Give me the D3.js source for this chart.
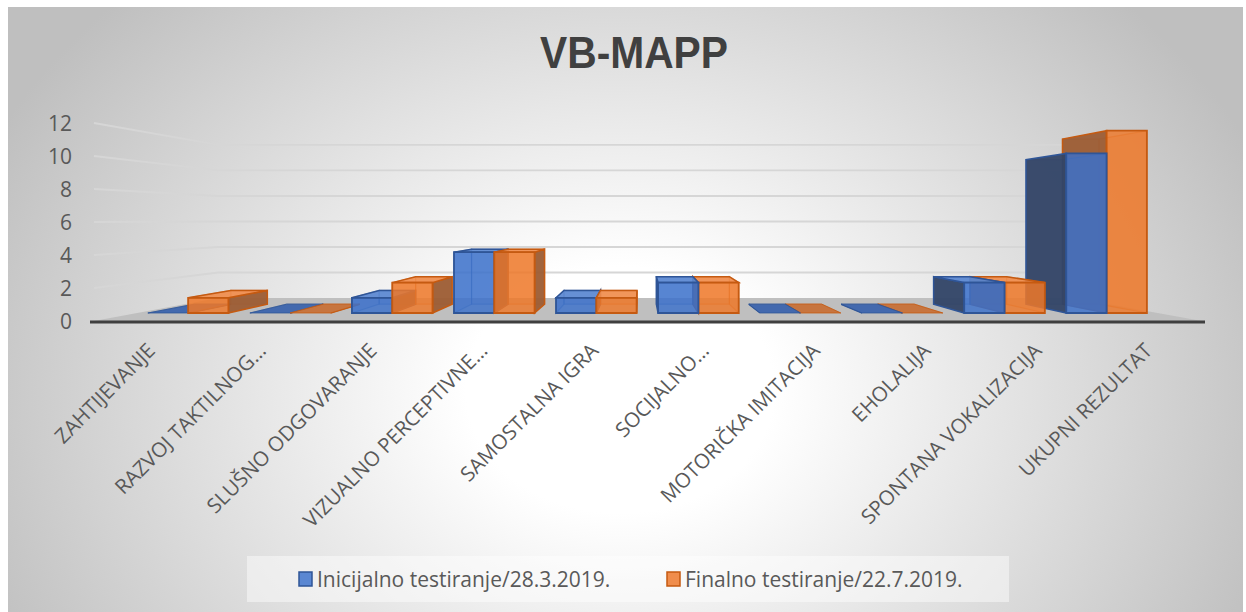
<!DOCTYPE html>
<html>
<head>
<meta charset="utf-8">
<script src="https://cdn.jsdelivr.net/npm/d3@7"></script>
<style>
  body { margin: 0; background: #fff; }
  text { font-family: "Open Sans", "DejaVu Sans", sans-serif; }
</style>
</head>
<body>
<div id="chart"></div>
<script>
const categories = ["ZAHTIJEVANJE", "RAZVOJ TAKTILNOG…", "SLUŠNO ODGOVARANJE", "VIZUALNO PERCEPTIVNE…",
    "SAMOSTALNA IGRA", "SOCIJALNO…", "MOTORIČKA IMITACIJA", "EHOLALIJA", "SPONTANA VOKALIZACIJA", "UKUPNI REZULTAT"];
const initialScores = [0, 0, 1, 4, 1, 2, 0, 0, 2, 10.5];
const finalScores = [1, 0, 2, 4, 1, 2, 0, 0, 2, 12];
const seriesNames = ["Inicijalno testiranje/28.3.2019.", "Finalno testiranje/22.7.2019."];
const yTicks = [0, 2, 4, 6, 8, 10, 12];

const width = 1246, height = 612;

// colours per series: front (translucent), side, top, edge, legend swatch
const palette = [
    {front: "#3b70ca", side: "#334466", top: "#4369ae", edge: "#2f5597", swatch: "#5a87d2"},
    {front: "#ee7728", side: "#9c5d35", top: "#c7753f", edge: "#c55a11", swatch: "#f08d4c"}
];

const svg = d3.select("#chart").append("svg")
    .attr("width", width)
    .attr("height", height);

const defs = svg.append("defs");
const grad = defs.append("radialGradient")
    .attr("id", "bg")
    .attr("gradientUnits", "userSpaceOnUse")
    .attr("cx", 620).attr("cy", 390).attr("r", 700)
    .attr("gradientTransform", "translate(620,390) scale(1,0.8) translate(-620,-390)");
grad.append("stop").attr("offset", 0).attr("stop-color", "#ffffff");
grad.append("stop").attr("offset", 0.22).attr("stop-color", "#ffffff");
grad.append("stop").attr("offset", 1).attr("stop-color", "#bfbfbf");

svg.append("rect")
    .attr("x", 8).attr("y", 7)
    .attr("width", 1235).attr("height", 605)
    .attr("fill", "url(#bg)");

// perspective set-up: front plane scales, depth -> scale factor
const vx = 640, vy = 219.7;
const x = d3.scaleBand().domain(d3.range(categories.length))
    .range([94, 1202]).paddingInner(0.21).paddingOuter(0.105);
const xSub = d3.scaleBand().domain([0, 1]).range([0, x.bandwidth()]);
const y = d3.scaleLinear().domain([0, 12]).range([321, 123]);
const depth = d3.scaleLinear().domain([0, 1]).range([0, 0.294]);
const zBarFront = 0.0858, zBarBack = 0.199;

function proj(X, v, z) {
    const s = 1 / (1 + z);
    return [vx + (X - vx) * s, vy + (y(v) - vy) * s];
}
const line = pts => "M" + pts.map(p => p.join(",")).join("L") + "Z";

const x0 = x.range()[0], x1 = x.range()[1], zBack = depth(1);

// floor
svg.append("path")
    .attr("d", line([proj(x0, 0, 0), proj(x1, 0, 0), proj(x1, 0, zBack), proj(x0, 0, zBack)]))
    .attr("fill", "#bfbfbf");

// gridlines on side wall and back wall
const grid = svg.append("g");
yTicks.filter(t => t > 0).forEach(t => {
    const a = proj(x0, t, 0), b = proj(x0, t, zBack), c = proj(x1, t, zBack);
    grid.append("path")
        .attr("d", `M${a}L${b}L${c}`)
        .attr("fill", "none")
        .attr("stroke", "#d6d6d6")
        .attr("stroke-width", 1.8);
});

// front edge of floor
svg.append("line")
    .attr("x1", x0 - 4).attr("x2", x1 + 3)
    .attr("y1", y(0) + 1).attr("y2", y(0) + 1)
    .attr("stroke", "#3f3f3f")
    .attr("stroke-width", 3);

// bars
const bars = [];
categories.forEach((c, i) => {
    [initialScores[i], finalScores[i]].forEach((v, k) => {
        const left = x(i) + xSub(k);
        bars.push({i, k, v, left, right: left + xSub.bandwidth()});
    });
});
bars.sort((a, b) => Math.abs((b.left + b.right) / 2 - vx) - Math.abs((a.left + a.right) / 2 - vx));

const barG = svg.append("g");
bars.forEach(d => {
    const col = palette[d.k];
    const zf = zBarFront, zb = zBarBack;
    const P = (X, v, z) => proj(X, v, z);
    const faces = {
        front: [P(d.left, 0, zf), P(d.right, 0, zf), P(d.right, d.v, zf), P(d.left, d.v, zf)],
        back: [P(d.left, 0, zb), P(d.right, 0, zb), P(d.right, d.v, zb), P(d.left, d.v, zb)],
        leftF: [P(d.left, 0, zf), P(d.left, 0, zb), P(d.left, d.v, zb), P(d.left, d.v, zf)],
        rightF: [P(d.right, 0, zf), P(d.right, 0, zb), P(d.right, d.v, zb), P(d.right, d.v, zf)],
        top: [P(d.left, d.v, zf), P(d.right, d.v, zf), P(d.right, d.v, zb), P(d.left, d.v, zb)]
    };
    const topVisible = faces.top[0][1] >= faces.top[3][1];
    const leftVisible = d.left > vx;
    const rightVisible = d.right < vx;
    const g = barG.append("g");

    // hidden edges, seen through the translucent faces
    const hidden = [faces.back];
    if (!leftVisible) hidden.push(faces.leftF);
    if (!rightVisible) hidden.push(faces.rightF);
    hidden.forEach(f => g.append("path").attr("d", line(f))
        .attr("fill", col.front).attr("fill-opacity", 0.2)
        .attr("stroke", col.edge).attr("stroke-opacity", 0.45).attr("stroke-width", 1.2));

    if (leftVisible) g.append("path").attr("d", line(faces.leftF))
        .attr("fill", col.side).attr("fill-opacity", 0.95)
        .attr("stroke", col.edge).attr("stroke-width", 1.5);
    if (rightVisible) g.append("path").attr("d", line(faces.rightF))
        .attr("fill", col.side).attr("fill-opacity", 0.95)
        .attr("stroke", col.edge).attr("stroke-width", 1.5);
    if (topVisible) g.append("path").attr("d", line(faces.top))
        .attr("fill", d.v === 0 ? col.top : col.swatch).attr("fill-opacity", d.v === 0 ? 1 : 0.9)
        .attr("stroke", col.edge).attr("stroke-width", d.v === 0 ? 0.8 : 1.5);
    if (d.v > 0) g.append("path").attr("d", line(faces.front))
        .attr("fill", col.front).attr("fill-opacity", 0.82)
        .attr("stroke", col.edge).attr("stroke-width", 1.8);
});

// y axis labels
svg.append("g").selectAll("text")
    .data(yTicks)
    .enter().append("text")
    .attr("x", 72)
    .attr("y", d => y(d))
    .attr("dy", "0.36em")
    .attr("text-anchor", "end")
    .attr("font-size", 21)
    .attr("fill", "#595959")
    .text(d => d);

// category labels
svg.append("g").selectAll("text")
    .data(categories)
    .enter().append("text")
    .attr("transform", (d, i) => {
        const cx = x(i) + x.bandwidth() / 2 + 7;
        return `translate(${cx},${352}) rotate(-45)`;
    })
    .attr("text-anchor", "end")
    .attr("font-size", 20.5)
    .attr("fill", "#595959")
    .text(d => d);

// title
svg.append("text")
    .attr("x", 634).attr("y", 68)
    .attr("text-anchor", "middle")
    .attr("font-size", 44)
    .attr("font-weight", "bold")
    .attr("fill", "#404040")
    .attr("textLength", 188)
    .attr("lengthAdjust", "spacingAndGlyphs")
    .style("font-family", "'Liberation Sans', Arial, sans-serif")
    .text("VB-MAPP");

// legend
const legend = svg.append("g");
legend.append("rect")
    .attr("x", 247).attr("y", 556)
    .attr("width", 762).attr("height", 46)
    .attr("fill", "#ffffff").attr("fill-opacity", 0.45);
const legendX = [299, 667];
seriesNames.forEach((name, k) => {
    legend.append("rect")
        .attr("x", legendX[k]).attr("y", 572)
        .attr("width", 13).attr("height", 14)
        .attr("fill", palette[k].swatch)
        .attr("stroke", palette[k].edge).attr("stroke-width", 1.5);
    legend.append("text")
        .attr("x", legendX[k] + 18).attr("y", 587)
        .attr("font-size", 21)
        .attr("fill", "#595959")
        .text(name);
});
</script>
</body>
</html>
